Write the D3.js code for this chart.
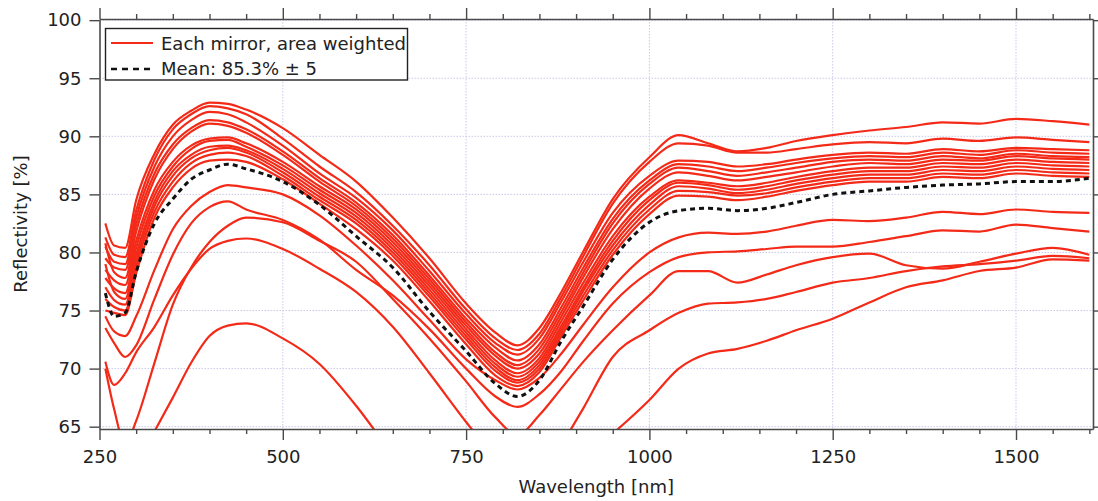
<!DOCTYPE html>
<html>
<head>
<meta charset="utf-8">
<script src="https://cdn.jsdelivr.net/npm/d3@7"></script>
<style>
  html, body { margin: 0; padding: 0; background: #ffffff; }
  svg { display: block; }
  text { font-family: "DejaVu Sans", "Liberation Sans", sans-serif; fill: #222; }
</style>
</head>
<body>
<svg id="chart" width="1098" height="501"></svg>
<script>
// ---------------- DATA ----------------
const wavelengths = [258, 270, 285, 300, 325, 350, 375, 400, 425, 450, 500, 550, 600, 650, 700, 750, 790, 820, 850, 880, 910, 950, 1000, 1040, 1080, 1120, 1160, 1200, 1250, 1300, 1350, 1400, 1450, 1500, 1550, 1600];

const mirror01 = [82.5, 80.6, 80.4, 84.5, 88.5, 91.0, 92.2, 92.9, 92.8, 92.3, 90.7, 88.4, 86.1, 83.0, 79.5, 75.6, 73.1, 72.0, 73.5, 76.6, 80.1, 84.6, 88.2, 90.1, 89.4, 88.7, 89.0, 89.6, 90.1, 90.5, 90.8, 91.2, 91.1, 91.5, 91.3, 91.0];
const mirror02 = [81.3, 79.8, 79.6, 83.6, 88.0, 90.6, 91.9, 92.6, 92.4, 91.9, 89.8, 87.4, 85.2, 82.3, 78.9, 75.1, 72.6, 71.6, 73.0, 76.2, 79.7, 84.2, 87.8, 89.4, 89.2, 88.6, 88.6, 88.9, 89.3, 89.5, 89.4, 89.8, 89.6, 89.9, 89.7, 89.5];
const mirror03 = [80.5, 79.2, 79.0, 83.0, 87.4, 90.0, 91.4, 92.1, 91.9, 91.2, 89.2, 86.8, 84.7, 81.9, 78.4, 74.7, 72.2, 71.2, 72.6, 75.8, 79.2, 83.4, 86.6, 87.9, 87.8, 87.4, 87.6, 88.0, 88.4, 88.6, 88.5, 88.9, 88.7, 89.0, 88.9, 88.8];
const mirror04 = [79.5, 78.7, 78.5, 82.4, 86.8, 89.3, 90.7, 91.4, 91.2, 90.6, 88.7, 86.4, 84.3, 81.5, 78.0, 74.3, 71.8, 70.7, 72.1, 75.3, 78.7, 82.9, 86.2, 87.6, 87.4, 87.0, 87.3, 87.7, 88.1, 88.3, 88.2, 88.6, 88.4, 88.8, 88.6, 88.5];
const mirror05 = [80.8, 78.3, 77.8, 81.8, 86.3, 88.9, 90.4, 91.1, 90.9, 90.3, 88.4, 86.1, 84.0, 81.2, 77.7, 74.0, 71.4, 70.3, 71.7, 74.9, 78.3, 82.5, 85.9, 87.3, 87.0, 86.6, 86.9, 87.3, 87.8, 88.0, 87.9, 88.3, 88.1, 88.5, 88.3, 88.2];
const mirror06 = [78.5, 77.6, 77.2, 81.0, 85.4, 87.8, 89.2, 89.8, 89.9, 89.4, 87.8, 85.7, 83.7, 80.9, 77.4, 73.7, 71.1, 70.0, 71.3, 74.5, 77.9, 82.0, 85.5, 86.9, 86.6, 86.2, 86.5, 86.9, 87.4, 87.7, 87.6, 88.0, 87.9, 88.3, 88.1, 88.0];
const mirror07 = [77.8, 76.9, 76.5, 80.4, 84.9, 87.4, 88.9, 89.6, 89.7, 89.1, 87.5, 85.4, 83.4, 80.6, 77.1, 73.4, 70.7, 69.6, 70.9, 74.1, 77.4, 81.4, 84.8, 86.2, 86.0, 85.7, 86.0, 86.5, 87.0, 87.3, 87.3, 87.7, 87.6, 88.0, 87.8, 87.7];
const mirror08 = [79.0, 76.6, 76.0, 79.8, 84.4, 87.0, 88.4, 89.1, 89.2, 88.8, 87.2, 85.1, 83.1, 80.3, 76.8, 73.1, 70.4, 69.3, 70.6, 73.7, 77.0, 81.0, 84.5, 86.0, 85.8, 85.4, 85.7, 86.2, 86.7, 87.0, 87.0, 87.4, 87.3, 87.7, 87.5, 87.4];
const mirror09 = [77.0, 75.9, 75.5, 79.3, 84.0, 86.6, 88.1, 88.8, 89.0, 88.6, 86.9, 84.8, 82.8, 80.0, 76.5, 72.8, 70.1, 69.0, 70.3, 73.4, 76.7, 80.6, 84.1, 85.7, 85.5, 85.1, 85.4, 85.9, 86.4, 86.7, 86.7, 87.1, 87.0, 87.4, 87.2, 87.1];
const mirror10 = [76.0, 75.3, 75.0, 78.8, 83.5, 86.1, 87.7, 88.4, 88.6, 88.3, 86.6, 84.5, 82.5, 79.7, 76.2, 72.5, 69.8, 68.8, 70.0, 73.1, 76.3, 80.2, 83.7, 85.3, 85.2, 84.9, 85.1, 85.6, 86.1, 86.4, 86.4, 86.8, 86.7, 87.1, 86.9, 86.8];
const mirror11 = [75.0, 74.8, 74.6, 78.2, 83.0, 85.6, 87.2, 87.9, 88.0, 87.8, 86.3, 84.2, 82.0, 79.3, 75.8, 72.1, 69.4, 68.5, 69.7, 72.8, 75.9, 79.8, 83.3, 84.9, 84.8, 84.5, 84.8, 85.3, 85.8, 86.1, 86.1, 86.5, 86.4, 86.8, 86.6, 86.5];
const mirror12 = [74.5, 73.2, 72.8, 74.5, 78.5, 82.0, 84.0, 85.2, 85.8, 85.6, 85.0, 83.2, 80.6, 77.6, 74.2, 70.8, 69.0, 68.2, 69.2, 71.3, 73.8, 77.0, 80.0, 81.3, 81.7, 81.6, 81.8, 82.3, 82.8, 82.7, 83.0, 83.5, 83.3, 83.7, 83.5, 83.4];
const mirror13 = [73.5, 72.2, 71.0, 72.0, 76.0, 79.8, 82.5, 83.9, 84.4, 83.7, 82.8, 81.1, 78.5, 76.3, 73.4, 70.0, 67.6, 66.7, 67.8, 69.8, 72.4, 75.6, 78.3, 79.6, 80.0, 80.1, 80.3, 80.5, 80.5, 80.9, 81.4, 81.9, 81.8, 82.4, 82.1, 81.8];
const mirror14 = [70.0, 66.5, 63.5, 65.5, 70.5, 75.5, 78.7, 80.9, 82.3, 83.0, 82.6, 81.0, 79.2, 76.0, 72.6, 68.9, 65.8, 64.3, 66.0, 68.3, 70.6, 73.3, 76.3, 78.4, 78.4, 77.4, 78.1, 78.9, 79.6, 79.9, 78.9, 78.6, 79.2, 79.9, 80.4, 79.8];
const mirror15 = [70.6, 68.6, 69.6, 71.4, 73.6, 76.3, 78.6, 80.3, 81.0, 81.2, 80.3, 78.6, 76.6, 73.6, 69.6, 65.4, 62.3, null, null, 63.4, 66.6, 71.0, 73.3, 74.8, 75.6, 75.7, 76.0, 76.6, 77.4, 77.8, 78.4, 78.8, 79.0, 79.3, 79.7, 79.5];
const mirror16 = [null, null, null, null, 64.6, 67.5, 70.5, 72.8, 73.7, 73.9, 72.6, 70.4, 66.8, 62.5, null, null, null, null, null, null, null, 64.4, 67.3, 70.0, 71.3, 71.7, 72.4, 73.3, 74.3, 75.7, 77.0, 77.6, 78.4, 78.7, 79.4, 79.3];

const meanCurve = [76.5, 74.5, 74.8, 78.3, 82.5, 84.6, 86.3, 87.1, 87.6, 87.2, 86.1, 84.1, 81.4, 78.7, 74.9, 71.5, 68.7, 67.6, 69.0, 72.4, 75.4, 79.4, 82.6, 83.6, 83.8, 83.6, 83.8, 84.3, 85.0, 85.3, 85.6, 85.8, 85.9, 86.1, 86.1, 86.4];

const mirrors = [mirror01, mirror02, mirror03, mirror04, mirror05, mirror06, mirror07, mirror08,
                 mirror09, mirror10, mirror11, mirror12, mirror13, mirror14, mirror15, mirror16];

const xMajorTicks = [250, 500, 750, 1000, 1250, 1500];
const xMinorTicks = [300, 350, 400, 450, 550, 600, 650, 700, 800, 850, 900, 950, 1050, 1100, 1150, 1200, 1300, 1350, 1400, 1450, 1550, 1600];
const yTicks = [65, 70, 75, 80, 85, 90, 95, 100];

const legendLabels = ["Each mirror, area weighted", "Mean: 85.3% \u00b1 5"];
const xTitle = "Wavelength [nm]";
const yTitle = "Reflectivity [%]";

// ---------------- CHART ----------------
const svg = d3.select("#chart");
const plotL = 99.5, plotR = 1093, plotT = 19, plotB = 429;
const RED = "#f42a18";
const AXIS = "#4a4a4a";

const x = d3.scaleLinear().domain([250, 1605]).range([plotL, plotR]);
const y = d3.scaleLinear().domain([64.8, 100.1]).range([plotB, plotT]);

// grid
const grid = svg.append("g");
grid.selectAll("line.gx").data(xMajorTicks.filter(t => t > 250)).enter().append("line")
  .attr("x1", d => x(d)).attr("x2", d => x(d)).attr("y1", plotT).attr("y2", plotB)
  .attr("stroke", "#c9c9ea").attr("stroke-width", 1).attr("stroke-dasharray", "1.5,1.5");
grid.selectAll("line.gy").data(yTicks).enter().append("line")
  .attr("x1", plotL).attr("x2", plotR).attr("y1", d => y(d)).attr("y2", d => y(d))
  .attr("stroke", "#c9c9ea").attr("stroke-width", 1).attr("stroke-dasharray", "1.5,1.5");

// clip
svg.append("clipPath").attr("id", "plotclip").append("rect")
  .attr("x", plotL).attr("y", plotT).attr("width", plotR - plotL).attr("height", plotB - plotT);

const line = d3.line()
  .defined(d => d[1] != null)
  .x(d => x(d[0])).y(d => y(d[1]))
  .curve(d3.curveMonotoneX);

const plot = svg.append("g").attr("clip-path", "url(#plotclip)");
plot.selectAll("path.mirror").data(mirrors).enter().append("path")
  .attr("class", "mirror")
  .attr("d", s => line(wavelengths.map((w, i) => [w, s[i]])))
  .attr("fill", "none").attr("stroke", RED).attr("stroke-width", 2.2)
  .attr("stroke-linejoin", "round");

plot.append("path")
  .attr("d", line(wavelengths.map((w, i) => [w, meanCurve[i]])))
  .attr("fill", "none").attr("stroke", "#111").attr("stroke-width", 3)
  .attr("stroke-dasharray", "5,4");

// axes
function styleAxis(g) {
  g.select(".domain").attr("stroke", AXIS).attr("stroke-width", 1.6);
  g.selectAll(".tick line").attr("stroke", AXIS).attr("stroke-width", 1.4);
  g.selectAll(".tick text").style("font-size", "18px").attr("fill", "#222");
}

const axB = svg.append("g").attr("transform", `translate(0,${plotB})`)
  .call(d3.axisBottom(x).tickValues(xMajorTicks).tickSize(11).tickPadding(10).tickSizeOuter(0).tickFormat(d3.format("d")));
styleAxis(axB);
const axBm = svg.append("g").attr("transform", `translate(0,${plotB})`)
  .call(d3.axisBottom(x).tickValues(xMinorTicks).tickSize(5).tickFormat(""));
styleAxis(axBm); axBm.select(".domain").remove();

const axT = svg.append("g").attr("transform", `translate(0,${plotT})`)
  .call(d3.axisTop(x).tickValues(xMajorTicks).tickSize(11).tickSizeOuter(0).tickFormat(""));
styleAxis(axT);
const axTm = svg.append("g").attr("transform", `translate(0,${plotT})`)
  .call(d3.axisTop(x).tickValues(xMinorTicks).tickSize(5).tickFormat(""));
styleAxis(axTm); axTm.select(".domain").remove();

const axL = svg.append("g").attr("transform", `translate(${plotL},0)`)
  .call(d3.axisLeft(y).tickValues(yTicks).tickSize(10).tickPadding(8).tickSizeOuter(0).tickFormat(d3.format("d")));
styleAxis(axL);

const axR = svg.append("g").attr("transform", `translate(${plotR},0)`)
  .call(d3.axisRight(y).tickValues(yTicks).tickSize(5).tickSizeOuter(0).tickFormat(""));
styleAxis(axR);

// titles
svg.append("text").attr("x", (plotL + plotR) / 2).attr("y", 493)
  .attr("text-anchor", "middle").style("font-size", "18px").text(xTitle);
svg.append("text").attr("transform", `translate(27,${(plotT + plotB) / 2}) rotate(-90)`)
  .attr("text-anchor", "middle").style("font-size", "18px").text(yTitle);

// legend
const lg = svg.append("g");
lg.append("rect").attr("x", 105.5).attr("y", 28.5).attr("width", 302).attr("height", 51.5)
  .attr("fill", "#fff").attr("stroke", "#222").attr("stroke-width", 1.4);
lg.append("line").attr("x1", 111).attr("x2", 153).attr("y1", 43).attr("y2", 43)
  .attr("stroke", RED).attr("stroke-width", 2.2);
lg.append("line").attr("x1", 111).attr("x2", 153).attr("y1", 69).attr("y2", 69)
  .attr("stroke", "#111").attr("stroke-width", 2.4).attr("stroke-dasharray", "6,5");
lg.selectAll("text.lt").data(legendLabels).enter().append("text")
  .attr("x", 161).attr("y", (d, i) => 49.5 + i * 25.5)
  .style("font-size", "18px").text(d => d);
</script>
</body>
</html>
